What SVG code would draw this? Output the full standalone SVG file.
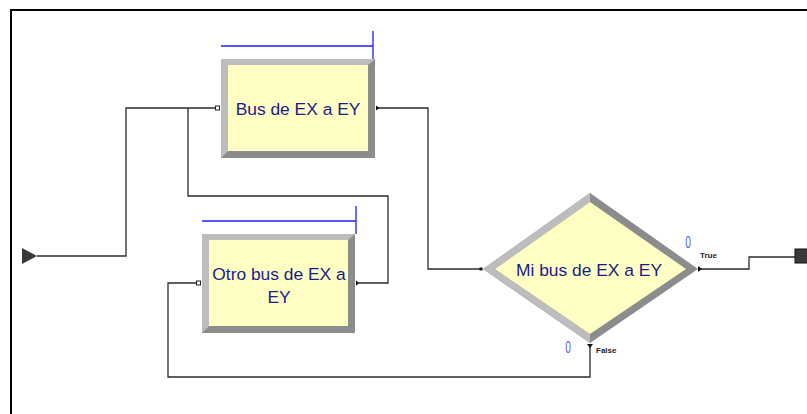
<svg xmlns="http://www.w3.org/2000/svg" width="807" height="414" viewBox="0 0 807 414">
  <style>
    .frame { fill: none; stroke: #000; stroke-width: 2; }
    .conn { fill: none; stroke: #2b2b2b; stroke-width: 1.3; }
    .queue { fill: none; stroke: #2020ff; stroke-width: 1.3; }
    .dark { fill: #8c8c8c; }
    .light { fill: #bdbdbd; }
    .face { fill: #ffffc4; }
    .label { font-family: "Liberation Sans", Arial, sans-serif; font-size: 17.4px; fill: #1c1c8c; text-anchor: middle; }
    .count { font-family: "Liberation Sans", Arial, sans-serif; font-size: 17px; fill: #5a5aff; text-anchor: middle; }
    .branch { font-family: "Liberation Sans", Arial, sans-serif; font-size: 8px; font-weight: bold; fill: #222; }
    .inport { fill: #fff; stroke: #222; stroke-width: 1; }
    .outport { fill: #111; }
  </style>

  <!-- model window border -->
  <path class="frame" d="M11,414 V10 H807"/>

  <!-- connectors -->
  <g id="connectors">
    <path class="conn" d="M37,256 H126 V108 H217"/>
    <path class="conn" d="M188,108 V196 H388 V283 H359"/>
    <path class="conn" d="M377,108 H428 V269 H481"/>
    <path class="conn" d="M198,283 H168 V377 H590 V346"/>
    <path class="conn" d="M699,269 H749 V257 H796"/>
  </g>

  <!-- create module -->
  <g id="create">
    <polygon points="22,248 37,256 22,264" fill="#3a3a3a"/>
  </g>

  <!-- process 1 -->
  <g id="bus1">
    <path class="queue" d="M221,46 H373 M373,31 V59"/>
    <rect class="dark" x="221" y="59" width="154" height="99"/>
    <polygon class="light" points="221,59 375,59 368,65 228,65 228,151 221,158"/>
    <rect class="face" x="228" y="65" width="140" height="86"/>
    <text class="label" x="298" y="115">Bus de EX a EY</text>
    <rect class="inport" x="215.5" y="106" width="4" height="4"/>
    <polygon class="outport" points="376,105.5 379.5,108 376,110.5"/>
  </g>

  <!-- process 2 -->
  <g id="bus2">
    <path class="queue" d="M202,221 H356 M356,206 V234"/>
    <rect class="dark" x="202" y="234" width="153" height="99"/>
    <polygon class="light" points="202,234 355,234 348,240 209,240 209,326 202,333"/>
    <rect class="face" x="209" y="240" width="139" height="86"/>
    <text class="label" x="279" y="280">Otro bus de EX a</text>
    <text class="label" x="279" y="303">EY</text>
    <rect class="inport" x="196.5" y="281" width="4" height="4"/>
    <polygon class="outport" points="356,280.5 359.5,283 356,285.5"/>
  </g>

  <!-- decide module -->
  <g id="decide">
    <polygon class="dark" points="483,269 590,193 698,269 590,343"/>
    <polygon class="light" points="483,269 590,193 590,202 495,269 590,334 590,343"/>
    <polygon class="face" points="495,269 590,202 686,269 590,334"/>
    <text class="label" x="589" y="276">Mi bus de EX a EY</text>
    <rect x="479.5" y="267.5" width="3" height="3" fill="#111"/>
    <polygon class="outport" points="698,266 702,269 698,272"/>
    <polygon class="outport" points="587,344 593,344 590,348"/>
    <!-- entity counters, drawn condensed -->
    <text class="count" x="688" y="248.5" transform="scale(0.6,1) translate(458.7,0)">0</text>
    <text class="count" x="568" y="353" transform="scale(0.6,1) translate(378.7,0)">0</text>
    <text class="branch" x="700" y="258">True</text>
    <text class="branch" x="596" y="353">False</text>
  </g>

  <!-- dispose module -->
  <g id="dispose">
    <rect x="795" y="249" width="14" height="14" fill="#3a3a3a" stroke="#111" stroke-width="1"/>
  </g>
</svg>
